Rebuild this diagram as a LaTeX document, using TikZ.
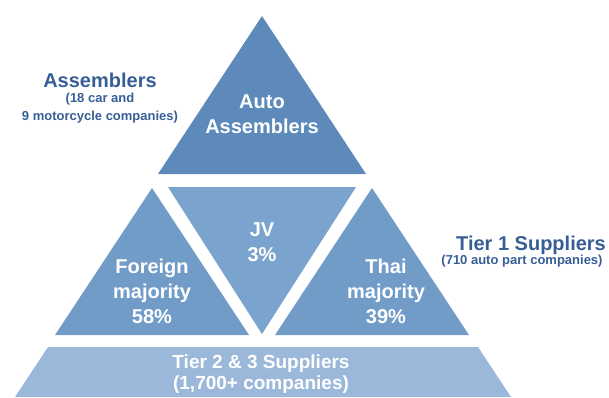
\documentclass[tikz,border=0pt]{standalone}
\usepackage{fontspec}
\setmainfont{Liberation Sans}
\usepackage{tikz}
\usetikzlibrary{positioning}
\definecolor{tierone}{RGB}{93,138,187}
\definecolor{tiermid}{RGB}{114,156,200}
\definecolor{tierjv}{RGB}{122,163,205}
\definecolor{tierlow}{RGB}{155,184,218}
\definecolor{labelblue}{RGB}{55,95,150}
\tikzstyle{inner} = [white, align=center, font=\bfseries\fontsize{20}{25}\selectfont]
\tikzstyle{title} = [labelblue, align=center, font=\bfseries\fontsize{20}{24}\selectfont]
\tikzstyle{sub} = [labelblue, align=center, font=\bfseries\fontsize{13}{18}\selectfont]

\begin{document}
\begin{tikzpicture}[x=1pt, y=-1pt]
\useasboundingbox (0,0) rectangle (609,397);

% pyramid
\fill[tierlow] (48,347) -- (478,347) -- (511,397) -- (15,397) -- cycle;
\fill[tiermid] (152,188) -- (249,335) -- (55,335) -- cycle;
\fill[tierjv] (168,187) -- (356,187) -- (262,334) -- cycle;
\fill[tiermid] (372,188) -- (469,335) -- (275,335) -- cycle;
\fill[tierone] (262,16) -- (366,174) -- (158,174) -- cycle;

\node[inner] (auto) at (262,114) {Auto\\Assemblers};
\node[inner] (jv) at (262,242) {JV\\3\%};
\node[inner] (foreign) at (152,291) {Foreign\\majority\\58\%};
\node[inner] (thai) at (386,291) {Thai\\majority\\39\%};
\node[inner, font=\bfseries\fontsize{19}{21}\selectfont] (tiertwo) at (261,374) {Tier 2 \& 3 Suppliers\\(1,700+ companies)};

% side labels
\node[title] (asm) at (100,80) {Assemblers};
\node[sub, below=-1pt of asm] (asmsub) {(18 car and\\9 motorcycle companies)};
\node[title] (tier) at (531,245) {Tier 1 Suppliers};
\node[sub] (tiersub) at (522,261) {(710 auto part companies)};
\end{tikzpicture}
\end{document}
